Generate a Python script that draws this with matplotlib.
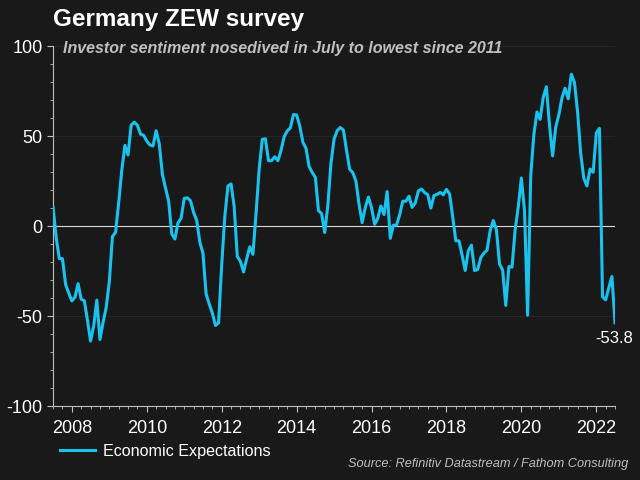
import numpy as np
import matplotlib; matplotlib.use("Agg")
import matplotlib.pyplot as plt
from matplotlib.ticker import MultipleLocator

# ZEW economic expectations, monthly, Jul 2007 - Jul 2022
start_year, start_month = 2007, 7
zew = [10.4, -6.9, -18.1, -18.1, -32.5, -37.2,
       -41.6, -39.5, -32.0, -40.7, -41.4, -52.4, -63.9, -55.5, -41.1, -63.0, -53.5, -45.2,
       -31.0, -5.8, -3.5, 13.0, 31.1, 44.8, 39.5, 56.1, 57.7, 56.0, 51.1, 50.4,
       47.2, 45.1, 44.5, 53.0, 45.8, 28.7, 21.2, 14.0, -4.3, -7.2, 1.8, 4.3,
       15.4, 15.7, 14.1, 7.6, 3.1, -9.0, -15.1, -37.6, -43.3, -48.3, -55.2, -53.8,
       -21.6, 5.4, 22.3, 23.4, 10.8, -16.9, -19.6, -25.5, -18.2, -11.5, -15.7, 6.9,
       31.5, 48.2, 48.5, 36.3, 36.4, 38.5, 36.3, 42.0, 49.6, 52.8, 54.6, 62.0,
       61.7, 55.7, 46.6, 43.2, 33.1, 29.8, 27.1, 8.6, 6.9, -3.6, 11.5, 34.9,
       48.4, 53.0, 54.8, 53.3, 41.9, 31.5, 29.7, 25.0, 12.1, 1.9, 10.4, 16.1,
       10.2, 1.0, 4.3, 11.2, 6.4, 19.2, -6.8, 0.5, 0.5, 6.2, 13.8, 13.8,
       16.6, 10.4, 12.8, 19.5, 20.6, 18.6, 17.5, 10.0, 17.0, 17.6, 18.7, 17.4,
       20.4, 17.8, 5.1, -8.2, -8.2, -16.1, -24.7, -13.7, -10.6, -24.7, -24.1, -17.5,
       -15.0, -13.4, -2.5, 3.1, -2.1, -21.1, -24.5, -44.1, -22.5, -22.8, -2.1, 10.7,
       26.7, 8.7, -49.5, 28.2, 51.0, 63.4, 59.3, 71.5, 77.4, 56.1, 39.0, 55.0,
       61.8, 71.2, 76.6, 70.7, 84.4, 79.8, 63.3, 40.4, 26.5, 22.3, 31.7, 29.9,
       51.7, 54.3, -39.3, -41.0, -34.3, -28.0, -53.8]
x = start_year + (start_month - 1) / 12 + np.arange(len(zew)) / 12
x_ticks = [2008, 2010, 2012, 2014, 2016, 2018, 2020, 2022]
y_ticks = [-100, -50, 0, 50, 100]

BG = "#191919"; CYAN = "#19c3f0"; GREY = "#bfbfbf"
plt.rcParams["font.family"] = ["Liberation Sans", "DejaVu Sans"]
plt.rcParams["axes.unicode_minus"] = False

fig = plt.figure(figsize=(6.4, 4.8), dpi=100, facecolor=BG)
ax = fig.add_axes([0.083, 0.154, 0.878, 0.75], facecolor=BG)

for yv in y_ticks:
    if yv != 0:
        ax.axhline(yv, color="#262626", lw=0.8, zorder=0)
ax.axhline(0, color="#d9d9d9", lw=0.8, zorder=1)
ln, = ax.plot(x, zew, color=CYAN, lw=2.2, zorder=3, label="Economic Expectations")
ax.annotate(f"{zew[-1]:.1f}", (x[-1], zew[-1]), xytext=(-1, -6), textcoords="offset points",
            ha="center", va="top", color="white", fontsize=12)

ax.set_xlim(x[0], x[-1]); ax.set_ylim(-100, 100)
ax.set_xticks(x_ticks); ax.set_yticks(y_ticks)
ax.xaxis.set_minor_locator(MultipleLocator(0.25))
ax.yaxis.set_minor_locator(MultipleLocator(10))
for s in ["top", "right"]: ax.spines[s].set_visible(False)
for s in ["left", "bottom"]: ax.spines[s].set_color("#bfbfbf")
ax.tick_params(colors="#bfbfbf", labelcolor="white", labelsize=13, length=4)
ax.tick_params(which="minor", colors="#bfbfbf", length=2)
ax.tick_params(axis="x", pad=6)

fig.text(0.083, 0.96, "Germany ZEW survey", color="white", fontsize=17.5, weight="bold",
         va="center")
fig.text(0.099, 0.9, "Investor sentiment nosedived in July to lowest since 2011", color=GREY,
         fontsize=11.5, weight="bold", style="italic", va="center")
fig.legend(handles=[ln], loc="center left", bbox_to_anchor=(0.071, 0.06), frameon=False,
           labelcolor="white", fontsize=11.6, handlelength=2.2, handletextpad=0.45)
fig.text(0.981, 0.02, "Source: Refinitiv Datastream / Fathom Consulting", color=GREY,
         fontsize=9.2, style="italic", ha="right", va="bottom")

fig.savefig("out.png", dpi=100, facecolor=BG)
